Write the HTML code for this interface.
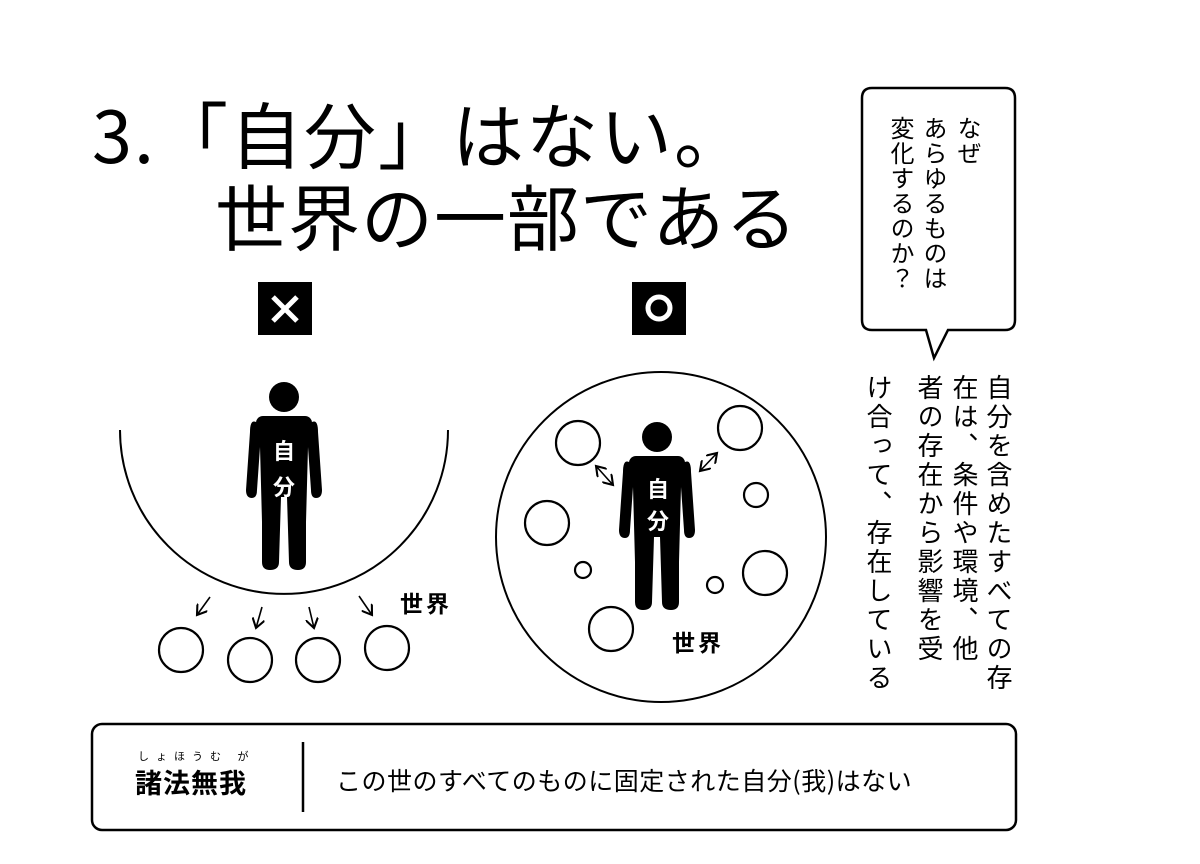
<!DOCTYPE html>
<html><head><meta charset="utf-8"><style>
body{margin:0;width:1200px;height:864px;background:#fff;overflow:hidden;position:relative;font-family:"Liberation Sans","Noto Sans CJK JP",sans-serif;color:#000}
.t{position:absolute;white-space:nowrap;font-family:"Noto Sans CJK JP",sans-serif}
.v{position:absolute;writing-mode:vertical-rl;font-family:"Noto Sans CJK JP",sans-serif;font-size:26px;line-height:1;letter-spacing:3px}
.s{font-size:24px;letter-spacing:1px}
</style></head><body>
<div class="t" style="left:92px;top:88px;font-size:72px;line-height:88px;letter-spacing:2px">3.「自分」はない。</div>
<div class="t" style="left:215px;top:170px;font-size:72px;line-height:88px;letter-spacing:1px">世界の一部である</div>

<svg width="1200" height="864" style="position:absolute;left:0;top:0">
<defs>
<g id="p">
<circle cx="0" cy="-55" r="15"/>
<path d="M-28,-30 Q-34,-33 -34,-20 L-38,38 Q-38,46 -32,46 Q-27,46 -27,38 L-24,-5 L-22,70 L-22,110 Q-22,118 -14,118 Q-5,118 -5,110 L-3,45 L3,45 L5,110 Q5,118 14,118 Q22,118 22,110 L22,70 L24,-5 L27,38 Q27,46 32,46 Q38,46 38,38 L34,-20 Q34,-33 28,-30 Z"/>
<rect x="-28" y="-36" width="56" height="14" rx="7"/>
</g>
<marker id="a" markerWidth="8" markerHeight="8" refX="6" refY="4" orient="auto"><path d="M0,0 L6,4 L0,8" fill="none" stroke="#000" stroke-width="1.3"/></marker>
<marker id="b" markerWidth="8" markerHeight="8" refX="2" refY="4" orient="auto"><path d="M8,0 L2,4 L8,8" fill="none" stroke="#000" stroke-width="1.3"/></marker>
</defs>
<path d="M872,88 H1005 Q1015,88 1015,98 V320 Q1015,330 1005,330 H948 L934,358 L926,330 H872 Q862,330 862,320 V98 Q862,88 872,88 Z" fill="#fff" stroke="#000" stroke-width="2.5"/>
<rect x="258" y="282" width="54" height="53"/>
<path d="M273,297 L297,321 M297,297 L273,321" stroke="#fff" stroke-width="5"/>
<rect x="632" y="282" width="54" height="53"/>
<circle cx="659" cy="308" r="11" fill="none" stroke="#fff" stroke-width="5"/>
<path d="M120,430 A164,164 0 0 0 448,430" fill="none" stroke="#000" stroke-width="2"/>
<use href="#p" x="284" y="452"/>
<g fill="none" stroke="#000" stroke-width="2.2">
<circle cx="181" cy="650" r="22"/><circle cx="250" cy="660" r="22"/><circle cx="318" cy="660" r="22"/><circle cx="387" cy="648" r="22"/>
</g>
<g stroke="#000" stroke-width="1.6" marker-end="url(#a)">
<line x1="210" y1="597" x2="197" y2="615"/><line x1="262" y1="607" x2="256" y2="628"/><line x1="309" y1="607" x2="314" y2="628"/><line x1="359" y1="596" x2="372" y2="615"/>
</g>
<circle cx="661" cy="537" r="165" fill="none" stroke="#000" stroke-width="2"/>
<use href="#p" x="657" y="492"/>
<g fill="none" stroke="#000" stroke-width="2.2">
<circle cx="578" cy="443" r="22"/><circle cx="740" cy="428" r="22"/><circle cx="547" cy="523" r="22"/><circle cx="756" cy="495" r="12"/><circle cx="583" cy="570" r="8"/><circle cx="765" cy="573" r="22"/><circle cx="715" cy="585" r="8"/><circle cx="611" cy="629" r="22"/>
</g>
<g stroke="#000" stroke-width="1.6" marker-end="url(#a)" marker-start="url(#b)">
<line x1="596" y1="466" x2="613" y2="485"/><line x1="700" y1="471" x2="717" y2="453"/>
</g>
<rect x="92" y="724" width="924" height="106" rx="10" fill="none" stroke="#000" stroke-width="2.5"/>
<line x1="303" y1="742" x2="303" y2="812" stroke="#000" stroke-width="2.5"/>
</svg>

<div class="t" style="left:271px;top:432px;font-size:22px;font-weight:bold;color:#fff;line-height:36px;width:26px;text-align:center">自<br>分</div>
<div class="t" style="left:645px;top:472px;font-size:22px;font-weight:bold;color:#fff;line-height:32px;width:26px;text-align:center">自<br>分</div>
<div class="t" style="left:400px;top:585px;font-size:23px;font-weight:bold;letter-spacing:3px">世界</div>
<div class="t" style="left:672px;top:624px;font-size:23px;font-weight:bold;letter-spacing:3px">世界</div>

<div class="v s" style="left:957px;top:116px">なぜ</div>
<div class="v s" style="left:923px;top:116px">あらゆるものは</div>
<div class="v s" style="left:890px;top:116px">変化するのか？</div>

<div class="v" style="left:986px;top:374px">自分を含めたすべての存</div>
<div class="v" style="left:952px;top:374px">在は、条件や環境、他</div>
<div class="v" style="left:917px;top:374px">者の存在から影響を受</div>
<div class="v" style="left:866px;top:374px">け合って、存在している</div>

<div class="t" style="left:138px;top:748px;font-size:11px;letter-spacing:7px">しょほうむ が</div>
<div class="t" style="left:135px;top:762px;font-size:27px;font-weight:bold;letter-spacing:1px">諸法無我</div>
<div class="t" style="left:336px;top:762px;font-size:25px;letter-spacing:0.5px">この世のすべてのものに固定された自分(我)はない</div>
</body></html>
